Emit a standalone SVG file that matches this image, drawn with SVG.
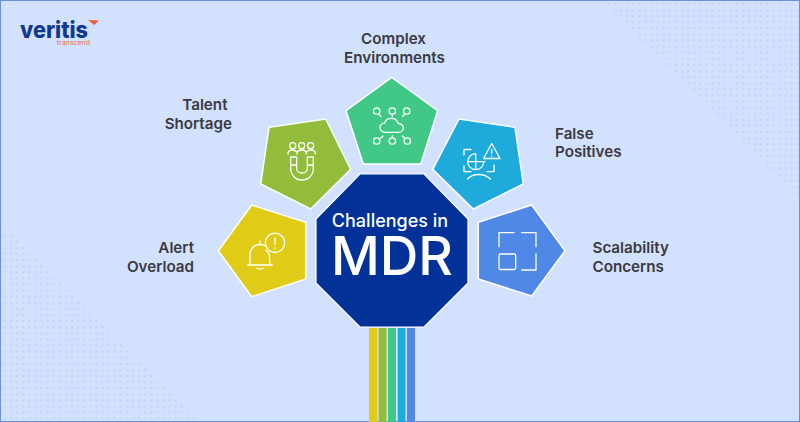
<svg xmlns="http://www.w3.org/2000/svg" width="800" height="422" viewBox="0 0 800 422">
<style>
.lbl{font-family:Inter,"Liberation Sans",sans-serif;font-size:15.200px;font-weight:600;fill:#3a3a40}
.p{stroke:#fff;stroke-width:1.5;stroke-linejoin:miter}
.ic{fill:none;stroke:#fff;stroke-width:1.3;stroke-linecap:round;stroke-linejoin:round}
.ct{font-family:Inter,"Liberation Sans",sans-serif;fill:#fff;text-anchor:middle}
</style>
<defs>
<pattern id="dots" x="3" y="2" width="6.1" height="6.1" patternUnits="userSpaceOnUse">
<path d="M0.9 1.9H2.9M1.9 0.9V2.9" stroke="#b4c6ec" stroke-width="0.6" fill="none"/>
</pattern>
</defs>
<rect width="800" height="422" fill="#d2e1fe"/>
<polygon points="0,222 200,422 0,422" fill="url(#dots)"/>
<polygon points="600,0 800,0 800,200" fill="url(#dots)"/>
<rect x="0.5" y="0.5" width="799" height="421" fill="none" stroke="#6f8fd6"/>

<g id="logo">
<text x="20" y="38" font-family="Inter,'Liberation Sans',sans-serif" font-size="23" font-weight="800" fill="#123a8c" textLength="68" lengthAdjust="spacingAndGlyphs">veritis</text>
<text x="57" y="45" font-family="Inter,'Liberation Sans',sans-serif" font-size="5.500" fill="#e8704c" textLength="33" lengthAdjust="spacingAndGlyphs">transcend</text>
<polygon points="88,20 99,20.500 94,25 92,23" fill="#ea5b34"/>
</g>

<g id="connectors">
<rect x="369" y="328" width="8.300" height="94" fill="#e0cc16"/>
<rect x="378.700" y="328" width="7.800" height="94" fill="#92bc3a"/>
<rect x="388" y="328" width="8" height="94" fill="#41c886"/>
<rect x="397.700" y="328" width="7.800" height="94" fill="#1eabdc"/>
<rect x="407" y="328" width="8" height="94" fill="#5088e6"/>
</g>

<g id="center">
<polygon points="360,174 424,174 468,219 468,283 424,327 360,327 316,283 316,219" fill="#023198" stroke="#fff" stroke-width="1.2"/>
<text class="ct" x="390" y="226.500" font-size="18" font-weight="500">Challenges in</text>
<text class="ct" x="392" y="275" font-size="53.500" font-weight="500">MDR</text>
</g>

<g id="alert-overload">
<polygon class="p" points="251.700,205 305.700,222.300 305.700,279 251.700,296.700 218.300,250.700" fill="#e0cc16"/>
<path class="ic" d="M247.700,265H272.300M250,265V254.500C250,248.500 254.500,244.500 260,244.500C262,244.500 264,245 265.500,246M260,244.500V241M265.800,250C267.800,251.500 269.200,253.500 269.400,256L270,265M257,268.300C259,269.500 261,269.500 263,268.300"/>
<circle class="ic" cx="275" cy="242.800" r="9.700"/>
<path class="ic" d="M275,238V244.500M275,248V248.300"/>
<text class="lbl" x="194" y="252.500" text-anchor="end">Alert</text>
<text class="lbl" x="194" y="271.500" text-anchor="end">Overload</text>
</g>

<g id="talent-shortage">
<polygon class="p" points="269,127.300 325.700,119 350.700,169.300 310.700,209 260.700,184" fill="#92bc3a"/>
<circle class="ic" cx="292.700" cy="145.700" r="3"/>
<circle class="ic" cx="301.700" cy="145.700" r="3"/>
<circle class="ic" cx="310.700" cy="145.700" r="3"/>
<path class="ic" d="M288,154C288,150.500 291,150 292.700,150C294.500,150 296,150.800 296.800,152M297,154C297,150.500 300,150 301.700,150C303.500,150 306.500,150.500 306.500,154M306.600,152C307.400,150.800 309,150 310.700,150C312.500,150 315.500,150.500 315.500,154"/>
<path class="ic" d="M290.700,157V168.500C290.700,175 295.500,180 302,180C308.500,180 313.300,175 313.300,168.500V157H307.300V168.500C307.300,171 305,173 302,173C299,173 296.700,171 296.700,168.500V157ZM290.700,165H296.700M307.300,165H313.300"/>
<text class="lbl" x="227.500" y="110" text-anchor="end">Talent</text>
<text class="lbl" x="232" y="129.300" text-anchor="end">Shortage</text>
</g>

<g id="complex-environments">
<polygon class="p" points="391.700,77.300 437.700,110.700 420.700,164 363.300,164 346,110.700" fill="#41c886"/>
<circle class="ic" cx="376.700" cy="111" r="3.200"/>
<circle class="ic" cx="392.300" cy="111" r="3.200"/>
<circle class="ic" cx="406.700" cy="111" r="3.200"/>
<circle class="ic" cx="376.700" cy="141" r="3.200"/>
<circle class="ic" cx="392.300" cy="141" r="3.200"/>
<circle class="ic" cx="407.300" cy="141" r="3.200"/>
<path class="ic" d="M378.500,114L381,116.500M392.300,114.200V116.500M405,114L402.500,116.500M380.500,138.500L383,136M392.300,137.800V135.700M405,138.500L402.500,136"/>
<path class="ic" d="M385,132.300C381.500,132.300 380,129.500 380,127.500C380,125 382,123.200 384.500,123.200C385.500,120 388.500,118.300 391.500,118.300C395,118.300 397.500,120.500 398,123.500C401,123.700 403.300,125.500 403.300,128C403.300,130.500 401,132.300 398.500,132.300Z"/>
<text class="lbl" x="393.500" y="44" text-anchor="middle">Complex</text>
<text class="lbl" x="394.500" y="63.300" text-anchor="middle">Environments</text>
</g>

<g id="false-positives">
<polygon class="p" points="459,119 515,127.300 523.300,184 473.300,209 432.700,169.300" fill="#1eabdc"/>
<path class="ic" d="M471,149.500H464V155M464,166V171.700H471M487,171.700H494V165"/>
<path class="ic" d="M475.700,153.700A8,8 0 0 0 475.700,169.700A8,8 0 0 0 483.700,161.700M475.700,153.700V169.700M468,161.700H485"/>
<path class="ic" d="M491.700,143.500L483.500,158.500H500Z"/>
<path class="ic" d="M491.700,149.500V153.500M491.700,156V156.200"/>
<path class="ic" d="M467.500,179C473,173 484,173 490.500,179"/>
<text class="lbl" x="555" y="139">False</text>
<text class="lbl" x="555" y="156.800">Positives</text>
</g>

<g id="scalability-concerns">
<polygon class="p" points="478.300,222.300 531.700,205 565,250.700 531.700,296 478.300,279" fill="#5088e6"/>
<path class="ic" d="M499,246.700V232.700H514M521.700,232.700H536V246.700M536,254V270H521.700"/>
<rect class="ic" x="499" y="254" width="16.700" height="15.500" rx="1.500"/>
<text class="lbl" x="592.500" y="252.700">Scalability</text>
<text class="lbl" x="592.500" y="271.700">Concerns</text>
</g>
</svg>
